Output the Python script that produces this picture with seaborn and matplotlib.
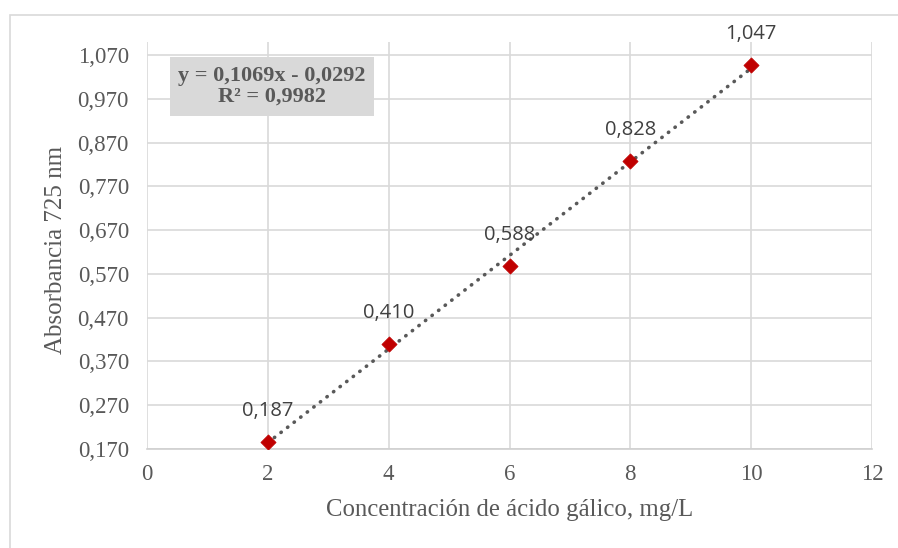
import matplotlib
matplotlib.use("Agg")
import matplotlib.pyplot as plt
import seaborn as sns
import pandas as pd
from matplotlib.patches import Rectangle

# Calibration data: gallic acid standard curve
concentracion = [2, 4, 6, 8, 10]
absorbancia = [0.187, 0.410, 0.588, 0.828, 1.047]
etiquetas = ["0,187", "0,410", "0,588", "0,828", "1,047"]

# Linear fit reported on the chart
pendiente = 0.1069
intercepto = -0.0292
r2_texto = "0,9982"

x_ticks = [0, 2, 4, 6, 8, 10, 12]
y_ticks = [0.170, 0.270, 0.370, 0.470, 0.570, 0.670, 0.770, 0.870, 0.970, 1.070]
y_tick_labels = ["0,170", "0,270", "0,370", "0,470", "0,570",
                 "0,670", "0,770", "0,870", "0,970", "1,070"]

sns.set_theme(style="white")
plt.rcParams["font.family"] = ["Liberation Serif", "DejaVu Serif"]

W, H = 898, 548
fig = plt.figure(figsize=(W / 100, H / 100), dpi=100)
fig.patch.set_facecolor("white")

# chart-area frame
fig.patches.append(Rectangle((10 / W, -0.01), 1.02 - 10 / W, 1 - 15 / H + 0.01,
                             transform=fig.transFigure, fill=False,
                             edgecolor="#d9d9d9", linewidth=1.2, zorder=0))

left, right = 147 / W, 872 / W
bottom, top = 1 - 449 / H, 1 - 42 / H
ax = fig.add_axes([left, bottom, right - left, top - bottom])

df = pd.DataFrame({"x": concentracion, "y": absorbancia})

# trend line across the measured range
xs = [concentracion[0], concentracion[-1]]
df_fit = pd.DataFrame({"x": xs, "y": [pendiente * v + intercepto for v in xs]})
sns.lineplot(data=df_fit, x="x", y="y", ax=ax, color="#595959",
             linewidth=2.6, linestyle=(0, (0.1, 2.2)), zorder=3)
ax.lines[-1].set_dash_capstyle("round")

sns.scatterplot(data=df, x="x", y="y", ax=ax, marker="D", s=60,
                color="#c00000", edgecolor="#c00000", linewidth=0.5, zorder=4)

for xv, yv, lab in zip(concentracion, absorbancia, etiquetas):
    ax.annotate(lab, (xv, yv), xytext=(0, 15), textcoords="offset points",
                ha="center", va="bottom", fontsize=14.5, color="#404040",
                family=["Open Sans", "DejaVu Sans"], zorder=5)

ax.set_xlim(0, 12)
ax.set_ylim(0.170, 1.100)
ax.set_xticks(x_ticks)
ax.set_xticklabels([str(v) for v in x_ticks])
ax.set_yticks(y_ticks)
ax.set_yticklabels(y_tick_labels)
ax.tick_params(axis="both", length=0, labelsize=16.5, labelcolor="#595959")
ax.tick_params(axis="x", pad=11)
ax.tick_params(axis="y", pad=13)

ax.grid(True, color="#d9d9d9", linewidth=1.2)
ax.set_axisbelow(True)
for s in ["top", "left", "right"]:
    ax.spines[s].set_visible(False)
ax.spines["bottom"].set_color("#d0d0d0")
ax.spines["bottom"].set_linewidth(1.2)

ax.set_xlabel("Concentración de ácido gálico, mg/L", fontsize=17.8,
              color="#595959", labelpad=10)
ax.set_ylabel("Absorbancia 725 nm", fontsize=18, color="#595959")
ax.yaxis.set_label_coords(-(147 - 67) / 725, 0.49)

# regression equation box
fig.patches.append(Rectangle((170 / W, 1 - 116 / H), 204 / W, 59 / H,
                             transform=fig.transFigure, facecolor="#d9d9d9",
                             edgecolor="none", zorder=6))
fig.text(272 / W, 1 - 86 / H,
         f"y = {str(pendiente).replace('.', ',')}x - {str(abs(intercepto)).replace('.', ',')}\nR² = {r2_texto}",
         ha="center", va="center", fontsize=16, fontweight="bold",
         color="#595959", linespacing=1.05, zorder=7)

fig.savefig("out.png", dpi=100, facecolor="white")
